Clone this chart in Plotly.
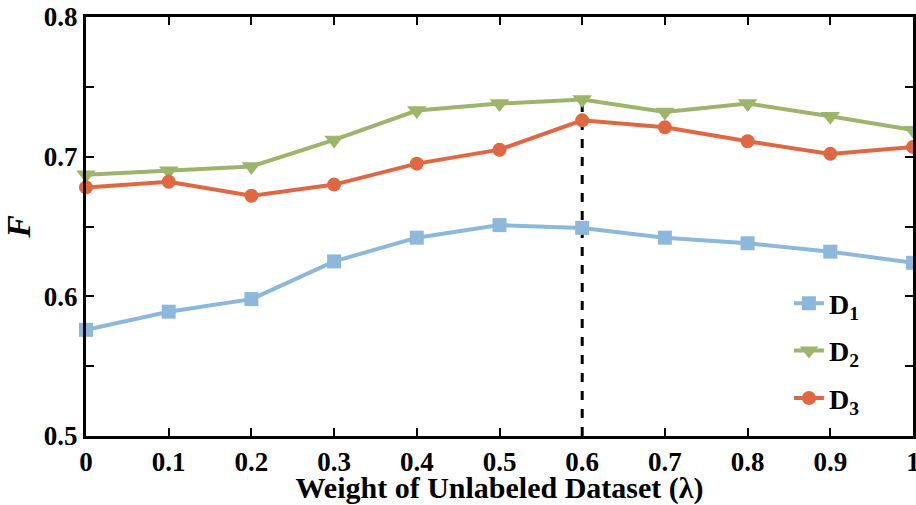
import plotly.graph_objects as go

lambdas = [0, 0.1, 0.2, 0.3, 0.4, 0.5, 0.6, 0.7, 0.8, 0.9, 1.0]
d1 = [0.576, 0.589, 0.598, 0.625, 0.642, 0.651, 0.649, 0.642, 0.638, 0.632, 0.624]
d2 = [0.687, 0.690, 0.693, 0.712, 0.733, 0.738, 0.741, 0.732, 0.738, 0.729, 0.719]
d3 = [0.678, 0.682, 0.672, 0.680, 0.695, 0.705, 0.726, 0.721, 0.711, 0.702, 0.707]
names = ["D<sub>1</sub>", "D<sub>2</sub>", "D<sub>3</sub>"]
colors = ["#8DB8DB", "#9DB56B", "#DF6742"]
symbols = ["square", "triangle-down", "circle"]
ytick_vals = [0.5, 0.55, 0.6, 0.65, 0.7, 0.75, 0.8]
ytick_text = ["0.5", "", "0.6", "", "0.7", "", "0.8"]
xtick_vals = [0, 0.1, 0.2, 0.3, 0.4, 0.5, 0.6, 0.7, 0.8, 0.9, 1.0]
xtick_text = ["0", "0.1", "0.2", "0.3", "0.4", "0.5", "0.6", "0.7", "0.8", "0.9", "1"]

fig = go.Figure()
for i, (ys, nm, c, s) in enumerate(zip([d1, d2, d3], names, colors, symbols)):
    fig.add_trace(go.Scatter(
        x=lambdas, y=ys, name=nm, mode="lines+markers",
        line=dict(color=c, width=4),
        marker=dict(symbol=s, size=14 if s != "triangle-down" else 17, color=c),
        legendgroup=str(i), cliponaxis=False,
    ))

best = max(range(len(d3)), key=lambda k: d3[k])
fig.add_shape(type="line", x0=lambdas[best], x1=lambdas[best], y0=ytick_vals[0], y1=d2[best],
              xref="x", yref="y", line=dict(color="black", width=3, dash="dash"), layer="below")

axis_common = dict(showline=True, linecolor="black", linewidth=3, mirror="allticks",
                   ticks="inside", ticklen=8, tickwidth=2, tickcolor="black",
                   showgrid=False, zeroline=False, automargin=False,
                   ticklabeloverflow="allow")

fig.update_layout(
    width=916, height=505,
    margin=dict(l=86, r=3, t=17, b=69),
    plot_bgcolor="white", paper_bgcolor="white",
    font=dict(family="Liberation Serif", size=27, color="black", weight="bold"),
    xaxis=dict(range=[0, 1], tickvals=xtick_vals, ticktext=xtick_text,
               title=dict(text="Weight of Unlabeled Dataset (λ)", font=dict(size=30)),
               **axis_common),
    yaxis=dict(range=[0.5, 0.8], tickvals=ytick_vals, ticktext=ytick_text,
               title=dict(text="<i>F</i>", font=dict(size=34)),
               **axis_common),
    legend=dict(x=0.85, y=0.376, xanchor="left", yanchor="top",
                bgcolor="rgba(0,0,0,0)", traceorder="grouped", tracegroupgap=8,
                font=dict(size=28)),
    showlegend=True,
)
fig.write_html("out.html", config={"displayModeBar": False},
               post_script="document.body.style.margin='0';document.body.style.overflow='hidden';")
